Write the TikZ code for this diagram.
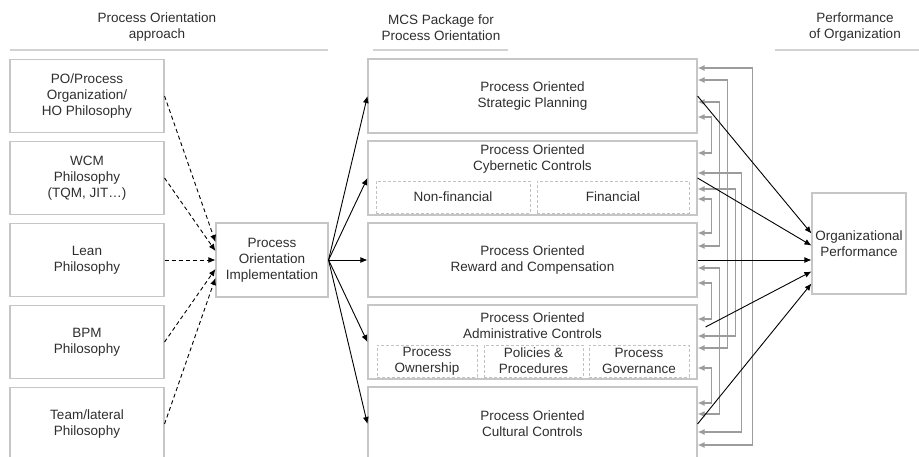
\documentclass[tikz,border=0pt]{standalone}
\usepackage{fontspec}
\setmainfont{Liberation Sans}
\definecolor{grisBorde}{HTML}{C6C6C6}
\definecolor{grisSub}{HTML}{C2C2C2}
\definecolor{grisTexto}{HTML}{2E2E2E}
\definecolor{grisLinea}{HTML}{D2D2D2}
\definecolor{grisFlecha}{HTML}{9C9C9C}
\usetikzlibrary{
	arrows.meta,
	calc
}
\tikzset{
	cajaBase/.style={
		draw=grisBorde,
		line width=1.1pt,
		inner sep=0pt,
		align=center,
		text=grisTexto,
		font=\fontsize{13.5}{16}\selectfont
	},
	cajaEnfoque/.style={
		cajaBase,
		minimum width=154pt,
		minimum height=73pt
	},
	cajaMCS/.style={
		cajaBase,
		minimum width=329pt,
		minimum height=74pt
	},
	cajaSub/.style={
		cajaBase,
		draw=grisSub,
		line width=0.9pt,
		dash pattern=on 3pt off 2pt,
		minimum height=32pt
	},
	textoCab/.style={
		align=center,
		inner sep=0pt,
		text=grisTexto,
		font=\fontsize{13.5}{16}\selectfont
	},
	lineaCab/.style={
		draw=grisLinea,
		line width=1.6pt
	},
	flechaPO/.style={
		-{Latex[length=7pt,width=6pt]},
		line width=0.9pt,
		dash pattern=on 4pt off 3pt
	},
	flechaMCS/.style={
		-{Latex[length=7pt,width=6pt]},
		line width=0.9pt
	},
	flechaRetro/.style={
		{Latex[length=7pt,width=6pt]}-{Latex[length=7pt,width=6pt]},
		line width=1.2pt,
		draw=grisFlecha
	}
}

\begin{document}
\begin{tikzpicture}[x=1pt, y=-1pt]
	\clip (0,0) rectangle (919,457);

	% column headers
	\node[textoCab] (cab1) at (157,27.5) {Process Orientation\\approach};
	\node[textoCab] (cab2) at (441,27.5) {MCS Package for\\Process Orientation};
	\node[textoCab] (cab3) at (855,27.5) {Performance\\of Organization};
	\draw[lineaCab] (10,50) -- (328,50);
	\draw[lineaCab] (373,50) -- (508,50);
	\draw[lineaCab] (775,50) -- (919,50);

	% approaches
	\node[cajaEnfoque] (enf1) at (87,96) {PO/Process\\Organization/\\HO Philosophy};
	\node[cajaEnfoque] (enf2) at (87,178) {WCM\\Philosophy\\(TQM, JIT…)};
	\node[cajaEnfoque] (enf3) at (87,260) {Lean\\Philosophy};
	\node[cajaEnfoque] (enf4) at (87,342) {BPM\\Philosophy};
	\node[cajaEnfoque] (enf5) at (87,424) {Team/lateral\\Philosophy};

	\node[cajaBase, minimum width=112pt, minimum height=74pt] (impl) at (272,260)
		{Process\\Orientation\\Implementation};

	% MCS package
	\node[cajaMCS] (mcs1) at (532.5,96) {Process Oriented\\Strategic Planning};
	\node[cajaMCS] (mcs2) at (532.5,178) {};
	\node[textoCab] (mcs2txt) at ($(mcs2.north)+(0,19)$) {Process Oriented\\Cybernetic Controls};
	\node[cajaSub, minimum width=154pt] (sub21) at (453,197) {Non-financial};
	\node[cajaSub, minimum width=152pt] (sub22) at (613,197) {Financial};
	\node[cajaMCS] (mcs3) at (532.5,260) {Process Oriented\\Reward and Compensation};
	\node[cajaMCS] (mcs4) at (532.5,342) {};
	\node[textoCab] (mcs4txt) at ($(mcs4.north)+(0,21)$) {Process Oriented\\Administrative Controls};
	\node[cajaSub, minimum width=100pt] (sub41) at (427,361) {Process\\Ownership};
	\node[cajaSub, minimum width=99pt] (sub42) at (533.5,361) {Policies \&\\Procedures};
	\node[cajaSub, minimum width=100pt] (sub43) at (639,361) {Process\\Governance};
	\node[cajaMCS] (mcs5) at (532.5,424) {Process Oriented\\Cultural Controls};

	\node[cajaBase, minimum width=94pt, minimum height=101pt] (desem) at (859,243.5)
		{Organizational\\Performance};

	% approaches -> implementation
	\draw[flechaPO] (enf1.east) -- ($(impl.west)+(0,-18)$);
	\draw[flechaPO] (enf2.east) -- ($(impl.west)+(0,-9)$);
	\draw[flechaPO] (enf3.east) -- (impl.west);
	\draw[flechaPO] (enf4.east) -- ($(impl.west)+(0,9)$);
	\draw[flechaPO] (enf5.east) -- ($(impl.west)+(0,18)$);

	% implementation -> MCS
	\foreach \i in {1,...,5}
		\draw[flechaMCS] (impl.east) -- (mcs\i.west);

	% links between the controls
	\foreach \a/\da/\b/\db/\dx in {1/21/2/-25/14, 2/21/3/-27/14, 3/23/4/-23/14, 4/26/5/-21/14,
		1/6/3/-14/22, 3/8/5/-10/22, 1/-16/4/6/30, 2/11/4/-6/38, 2/-5/5/8/44, 1/-28/5/21/55}
		\draw[flechaRetro] ($(mcs\a.east)+(0,\da)$) -- ++(\dx,0) |- ($(mcs\b.east)+(0,\db)$);

	% MCS -> performance
	\draw[flechaMCS] (mcs1.east) -- ($(desem.west)+(0,-10)$);
	\draw[flechaMCS] (mcs2.east) -- ($(desem.west)+(0,2)$);
	\draw[flechaMCS] (mcs3.east) -- (desem.west |- mcs3.east);
	\draw[flechaMCS] ($(mcs4.east)+(8,-15)$) -- ($(desem.west)+(0,28)$);
	\draw[flechaMCS] (mcs5.east) -- ($(desem.west)+(0,40)$);
\end{tikzpicture}
\end{document}
